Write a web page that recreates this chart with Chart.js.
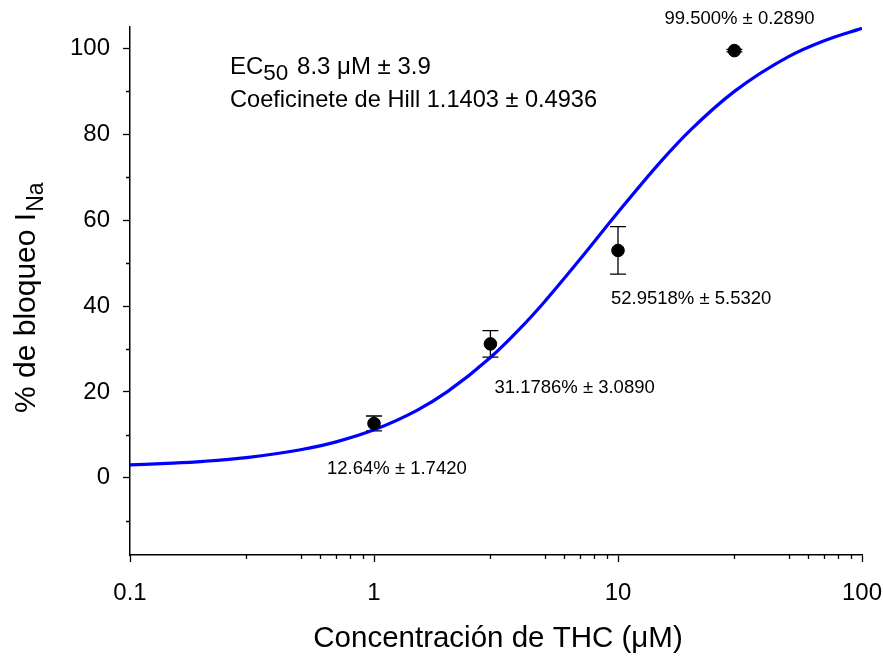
<!DOCTYPE html>
<html>
<head>
<meta charset="utf-8">
<script src="https://cdn.jsdelivr.net/npm/chart.js@4"></script>
<style>
  body { margin: 0; background: #fff; }
  canvas { display: block; }
</style>
</head>
<body>
<canvas id="grafico" width="883" height="659"></canvas>
<script>
// datos medidos (media ± error)
const concentraciones = [1, 3, 10, 30];
const bloqueo = [12.64, 31.1786, 52.9518, 99.5];
const errores = [1.742, 3.089, 5.532, 0.289];
const etiquetasPuntos = ['12.64% ± 1.7420', '31.1786% ± 3.0890', '52.9518% ± 5.5320', '99.500% ± 0.2890'];

// curva de ajuste
const curvaX = [0.1, 0.15, 0.2, 0.3, 0.5, 0.7, 1, 1.5, 2, 3, 4, 5, 7, 10, 15, 20, 30, 50, 70, 100];
const curvaY = [2.99, 3.40, 3.82, 4.69, 6.51, 8.36, 11.16, 15.71, 20.06, 28.0, 34.96, 41.01, 50.94, 61.84, 73.7, 81.2, 90.0, 98.1, 101.8, 104.7];

// marcas de los ejes
const ticksX = [0.1, 1, 10, 100];
const menoresX = [0.3, 0.5, 0.6, 0.7, 0.8, 0.9, 3, 5, 6, 7, 8, 9, 30, 50, 60, 70, 80, 90];
const ticksY = [0, 20, 40, 60, 80, 100];
const menoresY = [-10, 10, 30, 50, 70, 90];

// donde va cada etiqueta respecto a su punto (px)
const desplazamientos = [[-47, 51], [4, 49], [-7, 54], [-70, -27]];

const fuente = '"Liberation Sans", Arial, sans-serif';

const extras = {
    id: 'extras',
    beforeDatasetsDraw(chart) {
        const ctx = chart.ctx;
        const x = chart.scales.x, y = chart.scales.y;
        ctx.save();
        ctx.strokeStyle = '#000';
        ctx.lineWidth = 1.3;
        for (let i = 0; i < concentraciones.length; i++) {
            const px = x.getPixelForValue(concentraciones[i]);
            const y1 = y.getPixelForValue(bloqueo[i] + errores[i]);
            const y2 = y.getPixelForValue(bloqueo[i] - errores[i]);
            ctx.beginPath();
            ctx.moveTo(px, y1); ctx.lineTo(px, y2);
            ctx.moveTo(px - 8, y1); ctx.lineTo(px + 8, y1);
            ctx.moveTo(px - 8, y2); ctx.lineTo(px + 8, y2);
            ctx.stroke();
        }
        ctx.restore();
    },
    afterDraw(chart) {
        const ctx = chart.ctx;
        const x = chart.scales.x, y = chart.scales.y;
        const area = chart.chartArea;
        ctx.save();
        // marcas menores
        ctx.strokeStyle = '#000';
        ctx.lineWidth = 1.3;
        ctx.beginPath();
        for (const v of menoresX) {
            const px = Math.round(x.getPixelForValue(v)) + 0.5;
            ctx.moveTo(px, area.bottom); ctx.lineTo(px, area.bottom + 4);
        }
        for (const v of menoresY) {
            const py = Math.round(y.getPixelForValue(v)) + 0.5;
            ctx.moveTo(area.left, py); ctx.lineTo(area.left - 4, py);
        }
        ctx.stroke();

        ctx.fillStyle = '#000';
        // etiquetas de los puntos
        ctx.font = '18.5px ' + fuente;
        ctx.textAlign = 'left';
        ctx.textBaseline = 'alphabetic';
        for (let i = 0; i < concentraciones.length; i++) {
            const px = x.getPixelForValue(concentraciones[i]);
            const py = y.getPixelForValue(bloqueo[i]);
            ctx.fillText(etiquetasPuntos[i], px + desplazamientos[i][0], py + desplazamientos[i][1]);
        }

        // EC50 y Hill
        let tx = 230;
        ctx.font = '24px ' + fuente;
        ctx.fillText('EC', tx, 74);
        tx += ctx.measureText('EC').width;
        ctx.font = '22.5px ' + fuente;
        ctx.fillText('50', tx, 80);
        tx += ctx.measureText('50').width + 2;
        ctx.font = '24px ' + fuente;
        ctx.fillText(' 8.3 μM ± 3.9', tx, 74);
        ctx.font = '23.6px ' + fuente;
        ctx.fillText('Coeficinete de Hill 1.1403 ± 0.4936', 230, 107);

        // título eje x
        ctx.font = '29.5px ' + fuente;
        ctx.textAlign = 'center';
        ctx.fillText('Concentración de THC (μM)', (area.left + area.right) / 2 + 2, 647);

        // título eje y con subíndice
        ctx.translate(35, 413);
        ctx.rotate(-Math.PI / 2);
        ctx.textAlign = 'left';
        ctx.font = '30px ' + fuente;
        const base = '% de bloqueo I';
        ctx.fillText(base, 0, 0);
        const w = ctx.measureText(base).width;
        ctx.font = '23px ' + fuente;
        ctx.fillText('Na', w + 1, 8);
        ctx.restore();
    }
};

const config = {
    type: 'scatter',
    data: {
        datasets: [{
            label: 'ajuste',
            type: 'line',
            data: curvaX.map((v, i) => ({ x: v, y: curvaY[i] })),
            borderColor: '#0000ff',
            borderWidth: 3.2,
            pointRadius: 0,
            fill: false,
            cubicInterpolationMode: 'monotone',
            order: 2
        }, {
            label: 'bloqueo',
            data: concentraciones.map((v, i) => ({ x: v, y: bloqueo[i] })),
            backgroundColor: '#000',
            borderColor: '#000',
            pointRadius: 6.3,
            order: 1
        }]
    },
    options: {
        responsive: false,
        animation: false,
        layout: { padding: { top: 27, right: 21, left: 0, bottom: 0 } },
        plugins: {
            legend: { display: false },
            tooltip: { enabled: false }
        },
        scales: {
            x: {
                type: 'logarithmic',
                min: 0.1,
                max: 100,
                afterBuildTicks: (s) => { s.ticks = ticksX.map(v => ({ value: v })); },
                afterFit: (s) => { s.height = 104; s.paddingRight = 0; s.paddingLeft = 0; },
                ticks: {
                    autoSkip: false,
                    maxRotation: 0,
                    color: '#000',
                    padding: 17,
                    font: { family: fuente, size: 24 },
                    callback: (v) => String(v)
                },
                grid: {
                    drawOnChartArea: false,
                    drawTicks: true,
                    tickLength: 7,
                    tickColor: '#000',
                    tickWidth: 1.3
                },
                border: { display: true, color: '#000', width: 1.5 }
            },
            y: {
                min: -18,
                max: 105,
                afterBuildTicks: (s) => { s.ticks = ticksY.map(v => ({ value: v })); },
                afterFit: (s) => { s.width = 130; s.paddingTop = 0; s.paddingBottom = 0; },
                ticks: {
                    color: '#000',
                    padding: 13,
                    font: { family: fuente, size: 24 }
                },
                grid: {
                    drawOnChartArea: false,
                    drawTicks: true,
                    tickLength: 7,
                    tickColor: '#000',
                    tickWidth: 1.3
                },
                border: { display: true, color: '#000', width: 1.5 }
            }
        }
    },
    plugins: [extras]
};

const grafico = new Chart(document.getElementById('grafico'), config);
</script>
</body>
</html>
